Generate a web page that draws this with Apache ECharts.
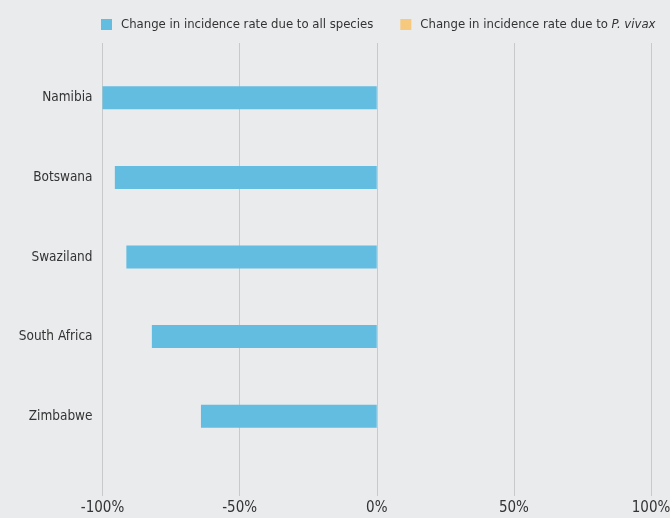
<!DOCTYPE html>
<html><head><meta charset="utf-8">
<script src="https://cdn.jsdelivr.net/npm/echarts@6/dist/echarts.min.js"></script>
<style>html,body{margin:0;padding:0;background:#eaebed;}#c{width:670px;height:518px;}</style>
</head><body><div id="c"></div>
<script>
const countries = ['Namibia', 'Botswana', 'Swaziland', 'South Africa', 'Zimbabwe'];
const allSpecies = [-1.00, -0.955, -0.913, -0.82, -0.641];
const pVivax = [null, null, null, null, null];
const xTicks = [-1, -0.5, 0, 0.5, 1];

const FONT = '"Liberation Sans Narrow", "DejaVu Sans Condensed", sans-serif';
const chart = echarts.init(document.getElementById('c'));
chart.setOption({
  backgroundColor: '#eaebed',
  textStyle: { fontFamily: FONT },
  legend: {
    top: 18, left: 101, width: 600, orient: 'horizontal',
    itemWidth: 11, itemHeight: 11, itemGap: 27, padding: 0,
    icon: 'rect',
    textStyle: { fontFamily: FONT, fontSize: 13, color: '#333', padding: [0, 0, 0, 4], rich: { i: { fontStyle: 'italic', fontFamily: FONT, fontSize: 13, color: '#333' } } },
    formatter: function (n) { return n.indexOf('P. vivax') >= 0 ? 'Change in incidence rate due to {i|P. vivax}' : n; },
    data: ['Change in incidence rate due to all species', 'Change in incidence rate due to P. vivax']
  },
  grid: [
    { left: 102.5, right: 19, top: 43, bottom: 22, outerBoundsMode: 'none' },
    { left: 102.5, right: 19, top: 58, bottom: 62, outerBoundsMode: 'none' }
  ],
  xAxis: [
    { gridIndex: 0, type: 'value', min: xTicks[0], max: xTicks[xTicks.length - 1], interval: 0.5,
      axisLine: { show: false }, axisTick: { show: false },
      splitLine: { show: true, lineStyle: { color: '#c9c9c9', width: 1 } },
      axisLabel: { fontFamily: FONT, fontSize: 15, color: '#333', margin: 5,
        formatter: function (v) { return Math.round(v * 100) + '%'; } } },
    { gridIndex: 1, type: 'value', min: xTicks[0], max: xTicks[xTicks.length - 1], show: false }
  ],
  yAxis: [
    { gridIndex: 0, type: 'value', show: false },
    { gridIndex: 1, type: 'category', inverse: true, data: countries,
      axisLine: { show: false }, axisTick: { show: false },
      axisLabel: { fontFamily: FONT, fontSize: 13.5, color: '#333', margin: 10 } }
  ],
  series: [
    { name: 'Change in incidence rate due to all species', type: 'bar', xAxisIndex: 1, yAxisIndex: 1,
      data: allSpecies, barWidth: 23, barGap: '-100%', itemStyle: { color: '#62bde0' } },
    { name: 'Change in incidence rate due to P. vivax', type: 'bar', xAxisIndex: 1, yAxisIndex: 1,
      data: pVivax, barWidth: 23, barGap: '-100%', itemStyle: { color: '#f6c97e' } }
  ]
});
</script></body></html>
